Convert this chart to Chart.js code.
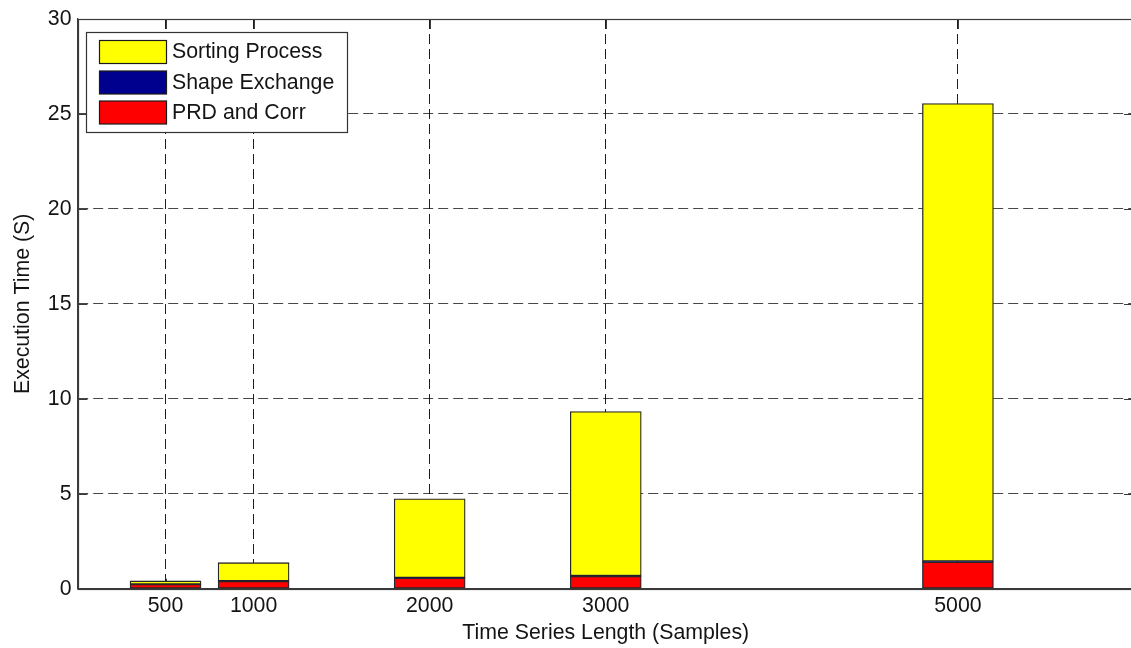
<!DOCTYPE html>
<html>
<head>
<meta charset="utf-8">
<script src="https://cdn.jsdelivr.net/npm/chart.js@4.4.1/dist/chart.umd.min.js"></script>
<style>
  html, body { margin: 0; padding: 0; background: #fff; overflow: hidden; }
  #wrap { width: 1140px; height: 648px; }
</style>
</head>
<body>
<div id="wrap"><canvas id="c" width="1140" height="648"></canvas></div>
<script>
// Time series lengths (samples) and execution times (seconds) per stage
const lengths = [500, 1000, 2000, 3000, 5000];
const prdCorr = [0.23, 0.39, 0.56, 0.65, 1.41];
const shapeExchange = [0.01, 0.02, 0.02, 0.03, 0.04];
const sortingProcess = [0.17, 0.96, 4.15, 8.65, 24.10];
const yTicks = [0, 5, 10, 15, 20, 25, 30];

const FONT = { family: '"Liberation Sans", Arial, Helvetica, sans-serif', size: 21.3 };
const TEXT = '#141414';
const AXIS = '#3a3a3a';

const pts = arr => lengths.map((x, i) => ({ x, y: arr[i] }));

const datasets = [
  { label: 'PRD and Corr', data: pts(prdCorr), backgroundColor: '#ff0000' },
  { label: 'Shape Exchange', data: pts(shapeExchange), backgroundColor: '#00008f' },
  { label: 'Sorting Process', data: pts(sortingProcess), backgroundColor: '#ffff00' }
].map(d => Object.assign(d, {
  borderColor: '#262626',
  borderWidth: 1.3,
  borderSkipped: false,
  barThickness: 71
}));

// Axes box, inward tick marks and the boxed legend in the upper left
const decor = {
  id: 'decor',
  beforeDatasetsDraw(chart) {
    const { ctx, chartArea: a, scales: { x, y } } = chart;
    ctx.save();
    ctx.strokeStyle = AXIS;
    ctx.lineWidth = 1;
    ctx.beginPath();
    lengths.forEach(v => {
      const px = Math.round(x.getPixelForValue(v)) + 0.5;
      ctx.moveTo(px, a.bottom); ctx.lineTo(px, a.bottom - 10);
      ctx.moveTo(px, a.top); ctx.lineTo(px, a.top + 10);
    });
    yTicks.forEach(v => {
      const py = Math.round(y.getPixelForValue(v)) + 0.5;
      ctx.moveTo(a.left, py); ctx.lineTo(a.left + 10, py);
      ctx.moveTo(a.right, py); ctx.lineTo(a.right - 10, py);
    });
    ctx.stroke();
    ctx.restore();
  },
  afterDraw(chart) {
    const { ctx, chartArea: a } = chart;
    ctx.save();
    ctx.strokeStyle = AXIS;
    ctx.lineWidth = 1.2;
    ctx.strokeRect(Math.round(a.left) + 0.5, Math.round(a.top) + 0.5,
      Math.round(a.right - a.left), Math.round(a.bottom - a.top));

    // legend box
    const bx = 86.5, by = 32.5, bw = 261, bh = 100;
    ctx.fillStyle = '#fff';
    ctx.fillRect(bx, by, bw, bh);
    ctx.strokeStyle = '#333';
    ctx.lineWidth = 1.2;
    ctx.strokeRect(bx, by, bw, bh);
    const entries = chart.data.datasets.slice().reverse();
    const rowTop = [40, 70.5, 100.5];
    ctx.font = FONT.size + 'px ' + FONT.family;
    ctx.textBaseline = 'middle';
    ctx.textAlign = 'left';
    entries.forEach((ds, i) => {
      const ty = rowTop[i];
      ctx.fillStyle = ds.backgroundColor;
      ctx.fillRect(99.5, ty + 0.5, 67, 23);
      ctx.strokeStyle = '#1a1a1a';
      ctx.lineWidth = 1.2;
      ctx.strokeRect(99.5, ty + 0.5, 67, 23);
      ctx.fillStyle = TEXT;
      ctx.fillText(ds.label, 172, ty + 12.5);
    });
    ctx.restore();
  }
};

new Chart(document.getElementById('c'), {
  type: 'bar',
  data: { datasets },
  options: {
    responsive: false,
    animation: false,
    events: [],
    layout: { padding: { top: 19, right: 6, left: 0, bottom: 0 } },
    plugins: { legend: { display: false }, tooltip: { enabled: false } },
    scales: {
      x: {
        type: 'linear',
        stacked: true,
        offset: false,
        min: 0,
        max: 6000,
        afterBuildTicks: s => { s.ticks = lengths.map(v => ({ value: v })); },
        afterFit: s => { s.height = 59.3; },
        ticks: {
          color: TEXT, font: FONT, padding: 5, maxRotation: 0, autoSkip: false,
          callback: v => String(v)
        },
        grid: {
          offset: false,
          drawTicks: false,
          color: 'rgba(0,0,0,0.88)',
          lineWidth: 1
        },
        border: { display: true, color: AXIS, width: 1.2, dash: [10, 5] },
        title: {
          display: true,
          text: 'Time Series Length (Samples)',
          color: TEXT,
          font: FONT,
          padding: { top: 0, bottom: 2 }
        }
      },
      y: {
        stacked: true,
        min: 0,
        max: 30,
        afterBuildTicks: s => { s.ticks = yTicks.map(v => ({ value: v })); },
        afterFit: s => { s.width = 77.5; },
        ticks: { color: TEXT, font: FONT, padding: 6, callback: v => String(v) },
        grid: {
          drawTicks: false,
          color: 'rgba(0,0,0,0.72)',
          lineWidth: 1
        },
        border: { display: true, color: AXIS, width: 1.2, dash: [10, 5] },
        title: {
          display: true,
          text: 'Execution Time (S)',
          color: TEXT,
          font: FONT,
          padding: { top: 10, bottom: 0 }
        }
      }
    }
  },
  plugins: [decor]
});
</script>
</body>
</html>
